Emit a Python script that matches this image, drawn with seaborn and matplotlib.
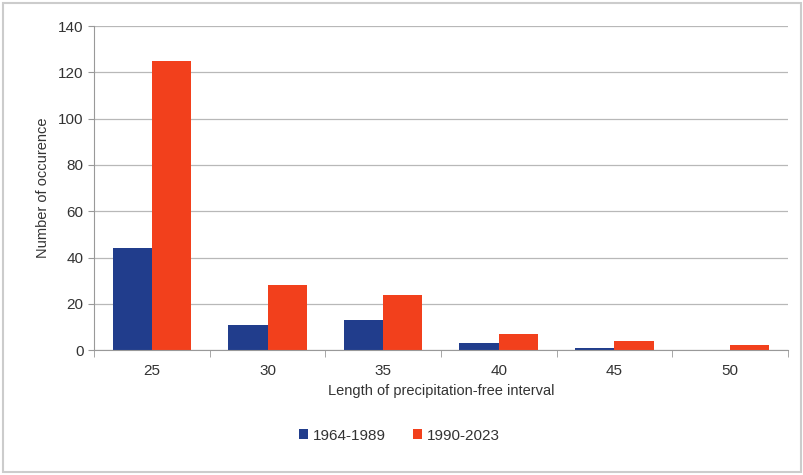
import pandas as pd
import matplotlib as mpl
import matplotlib.pyplot as plt
import seaborn as sns

sns.set_style("white")
mpl.rcParams["font.family"] = ["Liberation Sans", "DejaVu Sans"]

intervals = ["25", "30", "35", "40", "45", "50"]
period1 = [44, 11, 13, 3, 1, 0]
period2 = [125, 28, 24, 7, 4, 2]
series_names = ["1964-1989", "1990-2023"]

df = pd.DataFrame({"Interval": intervals * 2,
                   "Count": period1 + period2,
                   "Period": [series_names[0]] * 6 + [series_names[1]] * 6})

fig = plt.figure(figsize=(8.04, 4.75), dpi=100)
ax = fig.add_axes([0.117, 0.263, 0.863, 0.682])
sns.barplot(data=df, x="Interval", y="Count", hue="Period", ax=ax,
            palette=["#213d8c", "#f2401c"], width=0.68, saturation=1,
            linewidth=0, edgecolor="none", legend=True)

ax.set_ylim(0, 140)
ax.set_yticks(range(0, 141, 20))
ax.yaxis.grid(True, color="#b8b8b8", lw=0.9)
ax.set_axisbelow(True)
for s in ["top", "right"]:
    ax.spines[s].set_visible(False)
ax.spines["left"].set_color("#999999")
ax.spines["bottom"].set_color("#999999")
ax.tick_params(axis="both", colors="#333333", labelsize=11)
ax.tick_params(axis="y", length=4, color="#999999", left=True)
ax.tick_params(axis="x", length=0, pad=10)
ax.set_xticks([i + 0.5 for i in range(-1, 6)], minor=True)
ax.tick_params(axis="x", which="minor", length=5, color="#999999", bottom=True)
ax.set_xlabel("Length of precipitation-free interval", fontsize=10.5, color="#333333", labelpad=4)
ax.set_ylabel("Number of occurence", fontsize=10.5, color="#333333", labelpad=6)
ax.set_xlim(-0.5, 5.5)

ax.legend(loc="upper center", bbox_to_anchor=(0.44, -0.2), ncol=2, frameon=False,
          fontsize=11, handlelength=0.6, handleheight=0.6, handletextpad=0.3,
          columnspacing=1.8, labelcolor="#333333")

fig.patches.append(mpl.patches.Rectangle((0.004, 0.006), 0.992, 0.988, transform=fig.transFigure,
                                         fill=False, edgecolor="#cccccc", lw=1.5))
fig.savefig("out.png", dpi=100)
